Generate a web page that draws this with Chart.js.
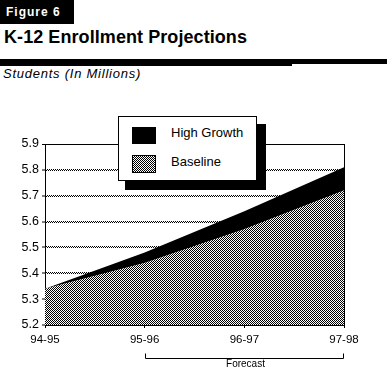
<!DOCTYPE html>
<html>
<head>
<meta charset="utf-8">
<script src="https://cdn.jsdelivr.net/npm/chart.js@4.4.1/dist/chart.umd.min.js"></script>
<style>
  html, body { margin: 0; padding: 0; background: #fff; }
  body { width: 387px; height: 383px; position: relative; overflow: hidden; font-family: Arial, "Liberation Sans", sans-serif; }
  .abs { position: absolute; }
  #fig { left: 0; top: 0; width: 74px; height: 24px; background: #000; color: #fff; font-weight: bold; font-size: 12px; letter-spacing: 1px; line-height: 24px; padding-left: 6px; box-sizing: border-box; }
  #title { left: 4px; top: 27px; font-weight: bold; font-size: 18px; white-space: nowrap; line-height: 20px; }
  #rule1 { left: 0; top: 59px; width: 292px; height: 7px; background: #000; }
  #rule2 { left: 292px; top: 59px; width: 95px; height: 5px; background: #000; }
  #sub { left: 3px; top: 66px; font-style: italic; font-weight: normal; font-size: 13px; white-space: nowrap; line-height: 15px; }
  #chartWrap { left: 0; top: 100px; width: 387px; height: 283px; }
  #shadow { left: 125px; top: 124px; width: 141px; height: 66px; background: #000; z-index: 2; }
  #lbox { left: 118px; top: 116px; width: 139px; height: 65px; background: #fff; border: 1px solid #000; box-sizing: border-box; z-index: 3; }
  .sw { position: absolute; width: 24px; height: 18px; box-sizing: border-box; z-index: 4; }
  #sw1 { left: 132px; top: 127px; height: 17px; background: #000; }
  #sw2 { left: 132px; top: 155px; border: 1px solid #000; background: repeating-conic-gradient(#000 0 25%, #fff 0 50%) 0 0 / 2px 2px; }
  .lt { position: absolute; font-size: 13px; line-height: 16px; white-space: nowrap; z-index: 4; }
  #lt1 { left: 171px; top: 125px; }
  #lt2 { left: 171px; top: 154px; }
</style>
</head>
<body>
<div id="fig" class="abs">Figure 6</div>
<div id="title" class="abs">K-12 Enrollment Projections</div>
<div id="rule1" class="abs"></div>
<div id="rule2" class="abs"></div>
<div id="sub" class="abs">Students (In Millions)</div>
<div id="chartWrap" class="abs"><canvas id="c" width="387" height="283"></canvas></div>
<div id="shadow" class="abs"></div>
<div id="lbox" class="abs"></div>
<div id="sw1" class="sw"></div>
<div id="sw2" class="sw"></div>
<div id="lt1" class="lt">High Growth</div>
<div id="lt2" class="lt">Baseline</div>
<script>
// ---- Data ----
const categories = ['94-95', '95-96', '96-97', '97-98'];
const baseline = [5.34, 5.44, 5.57, 5.72];
const highGrowth = [5.34, 5.48, 5.64, 5.81];
const yTicks = [5.2, 5.3, 5.4, 5.5, 5.6, 5.7, 5.8, 5.9];
const forecastLabel = 'Forecast';
const forecastFrom = '95-96';
const forecastTo = '97-98';

// fit header text widths
function fitWidth(id, target) {
  const el = document.getElementById(id);
  const n = el.textContent.length;
  const w = el.getBoundingClientRect().width;
  const cur = parseFloat(getComputedStyle(el).letterSpacing) || 0;
  el.style.letterSpacing = (cur + (target - w) / n) + 'px';
}
fitWidth('title', 243);
fitWidth('sub', 138);

// checker pattern
function checker() {
  const pc = document.createElement('canvas');
  pc.width = 2; pc.height = 2;
  const p = pc.getContext('2d');
  p.fillStyle = '#fff'; p.fillRect(0, 0, 2, 2);
  p.fillStyle = '#000'; p.fillRect(0, 0, 1, 1); p.fillRect(1, 1, 1, 1);
  return document.getElementById('c').getContext('2d').createPattern(pc, 'repeat');
}
const pat = checker();

const forecastPlugin = {
  id: 'forecast',
  afterDraw(chart) {
    const xs = chart.scales.x;
    const ctx = chart.ctx;
    const x1 = Math.round(xs.getPixelForValue(categories.indexOf(forecastFrom))) + 0.5;
    const x2 = Math.round(xs.getPixelForValue(categories.indexOf(forecastTo))) - 0.5;
    const y = chart.chartArea.bottom + 33.5;
    ctx.save();
    ctx.strokeStyle = '#000';
    ctx.lineWidth = 1;
    ctx.beginPath();
    ctx.moveTo(x1, y - 5); ctx.lineTo(x1, y); ctx.lineTo(x2, y); ctx.lineTo(x2, y - 5);
    ctx.stroke();
    ctx.fillStyle = '#000';
    ctx.font = '10px Arial, "Liberation Sans", sans-serif';
    ctx.textAlign = 'center';
    ctx.textBaseline = 'middle';
    ctx.fillText(forecastLabel, (x1 + x2) / 2 + 1, y + 6);
    ctx.restore();
  }
};

new Chart(document.getElementById('c'), {
  type: 'line',
  data: {
    labels: categories,
    datasets: [
      { label: 'Baseline', data: baseline, fill: 'start', backgroundColor: pat, borderWidth: 0, borderColor: 'rgba(0,0,0,0)', pointRadius: 0, tension: 0 },
      { label: 'High Growth', data: highGrowth, fill: '-1', backgroundColor: '#000', borderWidth: 0, borderColor: 'rgba(0,0,0,0)', pointRadius: 0, tension: 0 }
    ]
  },
  options: {
    responsive: false,
    animation: false,
    events: [],
    layout: { padding: { top: 44, right: 43, left: 0, bottom: 0 } },
    plugins: { legend: { display: false }, tooltip: { enabled: false } },
    scales: {
      x: {
        type: 'category',
        offset: false,
        afterFit(s) { s.height = 58; },
        border: { display: true, color: '#000', width: 1 },
        grid: {
          color: (c) => (c.index === categories.length - 1 ? '#000' : 'rgba(0,0,0,0)'),
          lineWidth: 1,
          drawTicks: true,
          tickLength: 3,
          tickColor: '#000',
          tickWidth: 1
        },
        ticks: {
          color: '#000',
          font: { family: 'Arial, "Liberation Sans", sans-serif', size: 11.5 },
          padding: 5,
          maxRotation: 0,
          autoSkip: false
        }
      },
      y: {
        min: 5.2,
        max: 5.9,
        afterFit(s) { s.width = 45; },
        afterBuildTicks(s) { s.ticks = yTicks.map(v => ({ value: v })); },
        border: { display: true, color: '#000', width: 1 },
        grid: {
          color: (c) => {
            const v = c.tick ? c.tick.value : 0;
            if (Math.abs(v - 5.9) < 1e-6) return '#000';
            if (Math.abs(v - 5.2) < 1e-6) return 'rgba(0,0,0,0)';
            return pat;
          },
          lineWidth: (c) => {
            const v = c.tick ? c.tick.value : 0;
            return Math.abs(v - 5.9) < 1e-6 ? 1 : 2;
          },
          drawTicks: true,
          tickLength: 3,
          tickColor: '#000',
          tickWidth: 1
        },
        ticks: {
          color: '#000',
          font: { family: 'Arial, "Liberation Sans", sans-serif', size: 12.5 },
          padding: 3,
          callback: (v) => Number(v).toFixed(1)
        }
      }
    }
  },
  plugins: [forecastPlugin]
});
</script>
</body>
</html>
